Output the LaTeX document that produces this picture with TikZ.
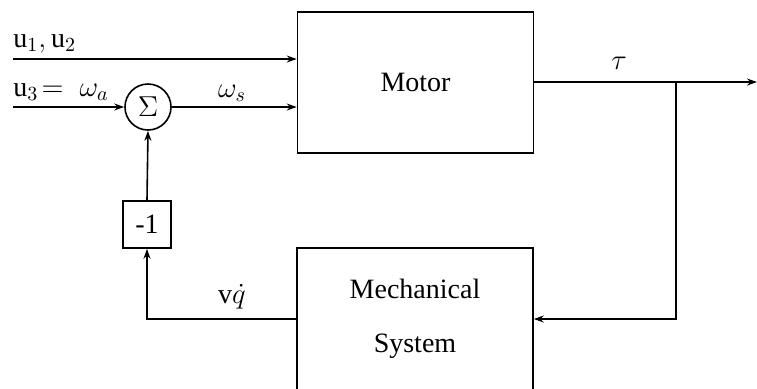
\documentclass[tikz,border=0pt]{standalone}
\usepackage{fontspec}
\setmainfont{Liberation Serif}
\usetikzlibrary{arrows.meta}
\begin{document}
\begin{tikzpicture}[x=0.5pt,y=-0.5pt,
  block/.style={draw, rectangle, thick, font=\fontsize{14}{17}\selectfont, align=center},
  lbl/.style={font=\fontsize{14}{17}\selectfont, inner sep=1pt},
  >={Stealth[length=5pt,width=3.5pt]}]
\useasboundingbox (0,0) rectangle (757,388);
\clip (0,0) rectangle (757,388);

\node[block, minimum width=118pt, minimum height=70.5pt] (motor) at (415.5,82.5) {Motor};
\node[block, minimum width=118pt, minimum height=71pt] (mech) at (415,319) {Mechanical\\[10pt]System};
\node[draw, circle, thick, minimum size=23pt, inner sep=0pt, font=\fontsize{14}{17}\selectfont] (sum) at (148,107) {$\Sigma$};
\node[block, minimum width=24pt, minimum height=23.5pt] (gain) at (147,224.5) {-1};

\coordinate (in1) at (13,59);
\coordinate (in2) at (13,107);
\coordinate (branch) at (676,82);
\coordinate (out) at (757,82);

\draw[thick, ->] (in1) -- (motor.west |- in1);
\draw[thick, ->] (in2) -- (sum);
\draw[thick, ->] (sum) -- (motor.west |- sum);
\draw[thick, ->] (motor.east |- branch) -- (out);
\draw[thick, ->] (branch) |- (mech.east);
\draw[thick, ->] (mech.west) -| (gain.south);
\draw[thick, ->] (gain.north) -- (sum.south);

\node[lbl] (tau) at (619,63) {$\tau$};
\node[lbl] (omegas) at (232,93) {$\omega_s$};
\node[lbl, anchor=west] (u12) at (11,44) {$\mathrm{u}_1, \mathrm{u}_2$};
\node[lbl, anchor=west] (u3) at (11,92) {$\mathrm{u}_3\!=\;\omega_a$};
\node[lbl] (qdot) at (232,297) {$\mathrm{v}\dot{q}$};
\end{tikzpicture}
\end{document}
